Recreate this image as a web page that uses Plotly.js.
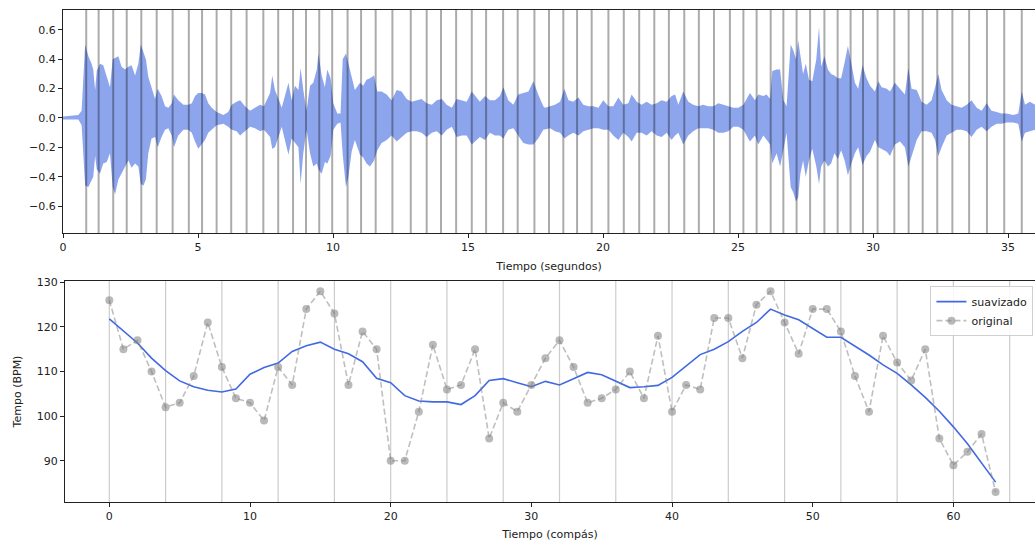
<!DOCTYPE html>
<html>
<head>
<meta charset="utf-8">
<script src="https://cdn.plot.ly/plotly-3.0.1.min.js"></script>
<style>
html,body{margin:0;padding:0;overflow:hidden;background:#fff;}
#chart{width:1035px;height:543px;}
</style>
</head>
<body>
<div id="chart"></div>
<script>
// ---- Waveform envelope ----
const waveTime = [0.00,0.57,0.69,0.75,0.82,0.94,1.06,1.12,1.19,1.25,1.37,1.49,1.62,1.74,1.84,1.93,2.05,2.17,2.30,2.42,2.54,2.67,2.79,2.88,2.98,3.07,3.16,3.28,3.41,3.51,3.65,3.78,3.90,4.03,4.11,4.27,4.46,4.64,4.77,4.89,5.01,5.14,5.26,5.38,5.51,5.69,5.94,6.12,6.25,6.43,6.56,6.74,6.93,7.11,7.30,7.44,7.54,7.67,7.75,7.85,7.98,8.10,8.22,8.35,8.47,8.59,8.72,8.80,8.90,
9.02,9.15,9.27,9.40,9.46,9.58,9.70,9.79,9.91,10.01,10.16,10.28,10.36,10.48,10.57,10.69,10.81,11.00,11.12,11.24,11.37,11.52,11.64,11.80,11.99,12.17,12.36,12.54,12.73,12.91,13.10,13.28,13.47,13.66,13.84,14.03,14.21,14.40,14.58,14.77,14.95,15.14,15.26,15.44,15.63,15.81,16.00,16.18,16.31,16.49,16.68,16.86,17.05,17.24,17.42,17.60,17.79,
17.85,18.04,18.22,18.41,18.57,18.72,18.90,19.09,19.27,19.46,19.64,19.83,20.01,20.20,20.38,20.57,20.75,20.94,21.06,21.25,21.43,21.62,21.80,21.99,22.17,22.36,22.54,22.67,22.79,22.97,23.16,23.34,23.53,23.71,23.90,24.09,24.27,24.46,24.64,24.83,25.01,25.20,25.44,25.63,25.75,25.94,26.06,26.19,26.27,26.43,26.56,
26.68,26.80,26.95,27.05,27.15,27.23,27.31,27.41,27.51,27.63,27.75,27.90,28.00,28.08,28.20,28.33,28.45,28.57,28.70,28.82,28.95,29.07,29.20,29.33,29.45,29.61,29.76,29.89,30.07,30.20,30.32,30.51,30.63,30.81,31.00,31.18,31.31,31.43,31.62,31.80,31.99,32.17,32.30,32.42,32.54,32.73,32.91,33.10,33.28,33.47,33.65,33.84,34.02,34.21,34.39,34.58,34.76,34.95,35.19,35.38,35.51,35.63,35.81,36.00];
const waveUpper = [0.01,0.02,0.05,0.24,0.50,0.42,0.37,0.33,0.19,0.32,0.37,0.36,0.29,0.21,0.40,0.41,0.42,0.35,0.33,0.35,0.36,0.29,0.37,0.50,0.45,0.40,0.28,0.20,0.13,0.20,0.15,0.08,0.07,0.10,0.16,0.12,0.09,0.09,0.10,0.15,0.17,0.17,0.16,0.10,0.07,0.04,0.02,0.04,0.09,0.11,0.12,0.08,0.05,0.07,0.09,0.08,0.12,0.17,0.29,0.19,0.13,0.07,0.15,0.24,0.12,0.22,0.19,0.34,0.19,
0.05,0.22,0.24,0.33,0.44,0.29,0.21,0.33,0.27,0.10,0.03,0.03,0.40,0.44,0.37,0.27,0.19,0.24,0.22,0.26,0.27,0.29,0.18,0.18,0.16,0.12,0.19,0.18,0.13,0.11,0.12,0.13,0.10,0.09,0.12,0.13,0.09,0.07,0.13,0.12,0.11,0.18,0.15,0.11,0.15,0.12,0.12,0.15,0.21,0.12,0.09,0.16,0.17,0.18,0.25,0.16,0.08,
0.07,0.08,0.09,0.11,0.20,0.12,0.11,0.14,0.09,0.08,0.08,0.07,0.12,0.08,0.08,0.14,0.09,0.10,0.16,0.11,0.09,0.11,0.09,0.10,0.12,0.11,0.15,0.16,0.09,0.18,0.11,0.09,0.08,0.09,0.08,0.08,0.10,0.09,0.08,0.07,0.07,0.09,0.17,0.12,0.16,0.15,0.16,0.13,0.32,0.33,0.33,
0.12,0.08,0.50,0.46,0.40,0.53,0.42,0.30,0.37,0.26,0.25,0.40,0.62,0.35,0.42,0.33,0.30,0.29,0.27,0.27,0.38,0.49,0.37,0.24,0.20,0.36,0.27,0.22,0.18,0.25,0.21,0.20,0.18,0.24,0.20,0.16,0.34,0.20,0.19,0.11,0.09,0.12,0.21,0.30,0.19,0.12,0.09,0.08,0.07,0.09,0.12,0.07,0.05,0.10,0.05,0.04,0.03,0.03,0.02,0.03,0.18,0.09,0.11,0.09];
const waveLower = [-0.01,-0.01,-0.05,-0.26,-0.46,-0.47,-0.42,-0.40,-0.26,-0.35,-0.38,-0.31,-0.30,-0.24,-0.47,-0.52,-0.42,-0.38,-0.33,-0.29,-0.34,-0.31,-0.33,-0.45,-0.46,-0.42,-0.24,-0.14,-0.13,-0.20,-0.13,-0.08,-0.07,-0.12,-0.20,-0.12,-0.08,-0.08,-0.10,-0.16,-0.21,-0.18,-0.15,-0.10,-0.08,-0.05,-0.04,-0.06,-0.08,-0.09,-0.12,-0.09,-0.06,-0.07,-0.09,-0.08,-0.10,-0.13,-0.21,-0.20,-0.13,-0.06,-0.16,-0.25,-0.14,-0.17,-0.20,-0.45,-0.24,
-0.08,-0.24,-0.33,-0.31,-0.35,-0.38,-0.30,-0.31,-0.26,-0.08,-0.04,-0.03,-0.25,-0.47,-0.40,-0.23,-0.15,-0.25,-0.27,-0.31,-0.33,-0.29,-0.22,-0.17,-0.15,-0.12,-0.16,-0.13,-0.10,-0.09,-0.09,-0.10,-0.13,-0.10,-0.09,-0.12,-0.08,-0.06,-0.13,-0.12,-0.12,-0.18,-0.16,-0.13,-0.15,-0.10,-0.12,-0.12,-0.14,-0.08,-0.07,-0.12,-0.17,-0.18,-0.18,-0.14,-0.08,
-0.08,-0.07,-0.09,-0.10,-0.14,-0.12,-0.10,-0.12,-0.09,-0.08,-0.07,-0.07,-0.08,-0.08,-0.12,-0.15,-0.10,-0.13,-0.16,-0.10,-0.10,-0.12,-0.09,-0.12,-0.13,-0.10,-0.15,-0.12,-0.10,-0.18,-0.12,-0.09,-0.07,-0.07,-0.07,-0.08,-0.10,-0.10,-0.09,-0.06,-0.06,-0.08,-0.16,-0.12,-0.18,-0.12,-0.15,-0.18,-0.31,-0.24,-0.33,
-0.22,-0.10,-0.47,-0.51,-0.57,-0.54,-0.38,-0.29,-0.40,-0.29,-0.21,-0.33,-0.45,-0.33,-0.29,-0.33,-0.31,-0.24,-0.28,-0.22,-0.29,-0.39,-0.31,-0.24,-0.20,-0.32,-0.26,-0.23,-0.15,-0.20,-0.21,-0.23,-0.26,-0.18,-0.16,-0.20,-0.33,-0.26,-0.15,-0.09,-0.09,-0.10,-0.15,-0.26,-0.20,-0.12,-0.10,-0.08,-0.08,-0.09,-0.13,-0.08,-0.06,-0.09,-0.06,-0.04,-0.04,-0.03,-0.03,-0.04,-0.16,-0.10,-0.09,-0.08];

// ---- Beat times (seconds) ----
const beatTimes = [0.86,1.32,1.86,2.36,2.90,3.47,4.06,4.66,5.15,5.69,6.23,6.80,7.42,7.97,8.52,9.00,9.49,9.97,10.54,11.04,11.58,12.20,12.88,13.47,14.00,14.56,15.14,15.67,16.30,16.84,17.46,18.00,18.53,19.04,19.58,20.20,20.77,21.34,21.90,22.44,23.01,23.55,24.11,24.70,25.20,25.69,26.21,26.68,27.17,27.67,28.20,28.69,29.17,29.63,30.17,30.79,31.32,31.84,32.38,32.94,33.56,34.22,34.86,35.51];

// ---- Tempo per bar ----
const bars = Array.from({length: 64}, (_, i) => i);
const tempoOriginal = [126,115,117,110,102,103,109,121,111,104,103,99,111,107,124,128,123,107,119,115,90,90,101,116,106,107,115,95,103,101,107,113,117,111,103,104,106,110,104,118,101,107,106,122,122,113,125,128,121,114,124,124,119,109,101,118,112,108,115,95,89,92,96,83];
const tempoSmooth = [121.8,119.1,116.4,113.0,110.2,107.9,106.6,105.8,105.4,106.1,109.4,110.9,111.9,114.5,115.8,116.6,115.0,114.0,112.2,108.5,107.5,104.6,103.4,103.2,103.2,102.6,104.6,108.0,108.4,107.5,106.6,107.8,107.0,108.4,109.8,109.3,107.8,106.4,106.6,106.9,108.7,111.3,113.8,115.0,116.7,119.0,121.0,124.0,122.7,121.6,119.6,117.7,117.7,115.7,113.7,111.5,109.6,107.0,104.2,101.1,97.6,93.8,89.5,85.2];
const barGrid = [0,4,8,12,16,20,24,28,32,36,40,44,48,52,56,60,64];

const F = 'DejaVu Sans, sans-serif';
const txt = '#222';

const wave = {
  x: waveTime.concat(waveTime.slice().reverse()),
  y: waveUpper.concat(waveLower.slice().reverse()),
  type: 'scatter', mode: 'lines', fill: 'toself',
  fillcolor: 'rgba(65,105,225,0.6)',
  line: {color: 'rgba(65,105,225,0)', width: 0},
  xaxis: 'x', yaxis: 'y', showlegend: false, hoverinfo: 'skip'
};
const smooth = {
  x: bars, y: tempoSmooth, type: 'scatter', mode: 'lines', name: 'suavizado',
  line: {color: '#4169e1', width: 1.6},
  xaxis: 'x2', yaxis: 'y2'
};
const orig = {
  x: bars, y: tempoOriginal, type: 'scatter', mode: 'lines+markers', name: 'original',
  line: {color: 'rgba(128,128,128,0.5)', width: 1.6, dash: '6px,3px'},
  marker: {color: 'rgba(128,128,128,0.55)', size: 8},
  xaxis: 'x2', yaxis: 'y2'
};

const shapes = [];
beatTimes.forEach(b => shapes.push({
  type: 'line', xref: 'x', yref: 'y domain', x0: b, x1: b, y0: 0, y1: 1,
  line: {color: 'rgba(0,0,0,0.33)', width: 2}, layer: 'above'
}));
barGrid.forEach(g => shapes.push({
  type: 'line', xref: 'x2', yref: 'y2 domain', x0: g, x1: g, y0: 0, y1: 1,
  line: {color: 'rgba(0,0,0,0.2)', width: 1.2}, layer: 'below'
}));

const axisCommon = {
  showgrid: false, zeroline: false, showline: true, linecolor: '#222', linewidth: 1,
  ticks: 'outside', ticklen: 4, tickcolor: '#222', tickwidth: 1,
  tickfont: {family: F, size: 11, color: txt}
};

const layout = {
  width: 1035, height: 543,
  margin: {l: 0, r: 0, t: 0, b: 0},
  paper_bgcolor: '#fff', plot_bgcolor: '#fff',
  font: {family: F, size: 11, color: txt},
  showlegend: true,
  legend: {
    x: 0.9985, y: 0.473, xanchor: 'right', yanchor: 'top',
    bgcolor: 'rgba(255,255,255,0.85)', bordercolor: '#d0d0d0', borderwidth: 1,
    font: {family: F, size: 11, color: txt}, tracegroupgap: 0
  },
  xaxis: Object.assign({}, axisCommon, {
    domain: [63/1035, 1], anchor: 'y', range: [0, 36.0], dtick: 5, tick0: 0, mirror: true,
    title: {text: 'Tiempo (segundos)', font: {family: F, size: 11, color: txt}, standoff: 9}
  }),
  yaxis: Object.assign({}, axisCommon, {
    domain: [1 - 233/543, 1 - 10/543], anchor: 'x', range: [-0.784, 0.736],
    tickvals: [-0.6,-0.4,-0.2,0,0.2,0.4,0.6], tickformat: '.1f'
  }),
  xaxis2: Object.assign({}, axisCommon, {
    domain: [65/1035, 1], anchor: 'y2', range: [-3.15, 65.8], dtick: 10, tick0: 0, mirror: true,
    title: {text: 'Tiempo (compás)', font: {family: F, size: 11, color: txt}, standoff: 8}
  }),
  yaxis2: Object.assign({}, axisCommon, {
    domain: [1 - 502/543, 1 - 281/543], anchor: 'x2', range: [80.75, 130.3],
    tickvals: [90,100,110,120,130],
    title: {text: 'Tempo (BPM)', font: {family: F, size: 11, color: txt}, standoff: 12}
  }),
  shapes: shapes
};

Plotly.newPlot('chart', [wave, smooth, orig], layout, {displayModeBar: false, staticPlot: true});
</script>
</body>
</html>
